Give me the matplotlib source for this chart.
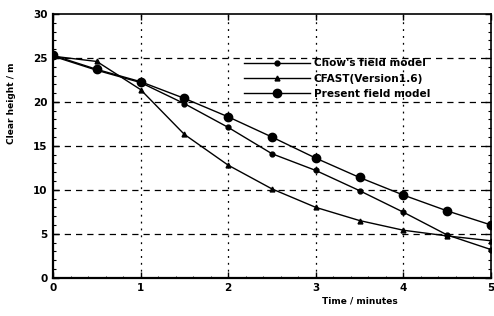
import matplotlib
matplotlib.use("Agg")
import matplotlib.pyplot as plt
from matplotlib.ticker import MultipleLocator

time_min = [0, 0.5, 1, 1.5, 2, 2.5, 3, 3.5, 4, 4.5, 5]
chow = [25.2, 23.6, 22.2, 19.8, 17.1, 14.1, 12.2, 9.9, 7.45, 4.86, 3.2]
cfast = [25.2, 24.6, 21.4, 16.3, 12.8, 10.1, 8.0, 6.5, 5.4, 4.75, 4.2]
present = [25.3, 23.7, 22.3, 20.4, 18.3, 16.0, 13.6, 11.4, 9.4, 7.6, 6.0]
labels = ["Chow's field model", "CFAST(Version1.6)", "Present field model"]
xticks = [0, 1, 2, 3, 4, 5]
yticks = [0, 5, 10, 15, 20, 25, 30]

plt.rcParams['font.family'] = ['DejaVu Sans']
plt.rcParams['font.weight'] = 'bold'

fig = plt.figure(figsize=(4.94, 3.16), dpi=100)
ax = fig.add_axes([0.1073, 0.1212, 0.8866, 0.8345])

for y in yticks[1:-1]:
    ax.axhline(y, color='black', lw=0.9, ls=(0, (5, 4)), zorder=1)
for x in xticks[1:-1]:
    ax.axvline(x, color='black', lw=0.9, ls=(0, (1.5, 4)), zorder=1)

ax.plot(time_min, chow, color='black', lw=1.0, marker='o', ms=3.5, label=labels[0], zorder=3)
ax.plot(time_min, cfast, color='black', lw=1.0, marker='^', ms=3.5, label=labels[1], zorder=3)
ax.plot(time_min, present, color='black', lw=1.0, marker='o', ms=6, label=labels[2], zorder=3)

ax.set_xlim(0, 5)
ax.set_ylim(0, 30)
ax.set_xticks(xticks)
ax.set_yticks(yticks)
ax.xaxis.set_minor_locator(MultipleLocator(0.2))
ax.yaxis.set_minor_locator(MultipleLocator(1))
ax.tick_params(axis='both', which='major', direction='in', length=4, width=1,
               labelsize=7.5, top=True, right=True, pad=4)
ax.tick_params(axis='y', which='minor', direction='in', length=2, width=0.8, right=True)
ax.tick_params(axis='x', which='minor', direction='in', length=1.5, width=0.6, top=False)
for lab in ax.get_xticklabels() + ax.get_yticklabels():
    lab.set_fontweight('bold')

ax.spines['left'].set_linewidth(1.6)
ax.spines['bottom'].set_linewidth(1.6)
ax.spines['top'].set_linewidth(1.2)
ax.spines['right'].set_linewidth(1.2)

ax.set_xlabel('Time / minutes', fontsize=6.5, fontweight='bold')
ax.xaxis.set_label_coords(0.70, -0.07)
ax.set_ylabel('Clear height / m', fontsize=6.5, fontweight='bold')
ax.yaxis.set_label_coords(-0.085, 0.66)

leg = ax.legend(loc='upper left', bbox_to_anchor=(0.437, 0.832), frameon=False,
                handlelength=6.2, handletextpad=0.35, labelspacing=0.5,
                prop={'size': 7.6, 'weight': 'bold'}, borderpad=0, borderaxespad=0)

fig.savefig('out.png', dpi=100)
